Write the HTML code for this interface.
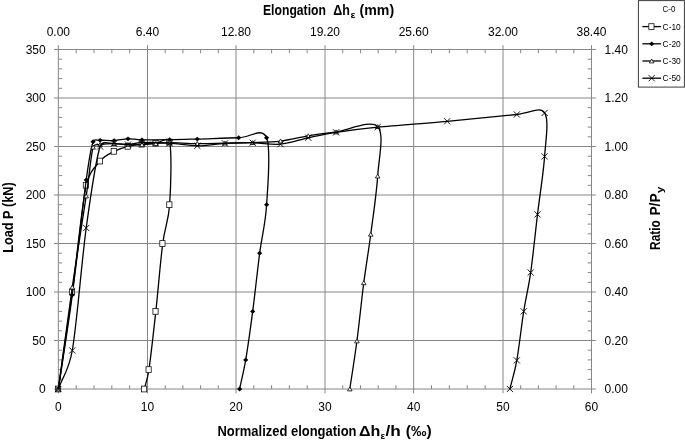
<!DOCTYPE html>
<html lang="en"><head><meta charset="utf-8"><title>Load-elongation chart</title>
<style>html,body{margin:0;padding:0;background:#fff;}body{width:685px;height:443px;overflow:hidden;}svg{display:block;}text{font-family:"Liberation Sans",sans-serif;fill:#000;}.t{font-size:12px;}.b{font-size:13.8px;font-weight:bold;}.l{font-size:8.3px;}.s{font-size:9.5px;}</style>
</head><body>
<svg width="685" height="443" viewBox="0 0 685 443">
<rect width="685" height="443" fill="#fff"/>
<path d="M147.50,49.50V389.00M236.00,49.50V389.00M325.00,49.50V389.00M413.65,49.50V389.00M503.00,49.50V389.00M591.50,49.50V389.00M58.35,340.50H591.50M58.35,292.00H591.50M58.35,243.50H591.50M58.35,195.00H591.50M58.35,146.50H591.50M58.35,98.00H591.50M58.35,49.50H591.50" fill="none" stroke="#868686" stroke-width="1"/>
<path d="M58.35,49.50V389.00M591.50,49.50V389.00M58.35,49.50H591.50M58.35,389.00H591.50M58.35,389.00v4.30M58.35,49.50v-4.30M147.50,389.00v4.30M147.50,49.50v-4.30M236.00,389.00v4.30M236.00,49.50v-4.30M325.00,389.00v4.30M325.00,49.50v-4.30M413.65,389.00v4.30M413.65,49.50v-4.30M503.00,389.00v4.30M503.00,49.50v-4.30M591.50,389.00v4.30M591.50,49.50v-4.30M76.18,389.00v-3.80M76.18,49.50v3.80M94.01,389.00v-3.80M94.01,49.50v3.80M111.84,389.00v-3.80M111.84,49.50v3.80M129.67,389.00v-3.80M129.67,49.50v3.80M165.20,389.00v-3.80M165.20,49.50v3.80M182.90,389.00v-3.80M182.90,49.50v3.80M200.60,389.00v-3.80M200.60,49.50v3.80M218.30,389.00v-3.80M218.30,49.50v3.80M253.80,389.00v-3.80M253.80,49.50v3.80M271.60,389.00v-3.80M271.60,49.50v3.80M289.40,389.00v-3.80M289.40,49.50v3.80M307.20,389.00v-3.80M307.20,49.50v3.80M342.73,389.00v-3.80M342.73,49.50v3.80M360.46,389.00v-3.80M360.46,49.50v3.80M378.19,389.00v-3.80M378.19,49.50v3.80M395.92,389.00v-3.80M395.92,49.50v3.80M431.52,389.00v-3.80M431.52,49.50v3.80M449.39,389.00v-3.80M449.39,49.50v3.80M467.26,389.00v-3.80M467.26,49.50v3.80M485.13,389.00v-3.80M485.13,49.50v3.80M520.70,389.00v-3.80M520.70,49.50v3.80M538.40,389.00v-3.80M538.40,49.50v3.80M556.10,389.00v-3.80M556.10,49.50v3.80M573.80,389.00v-3.80M573.80,49.50v3.80M58.35,389.00h-4.30M591.50,389.00h4.30M58.35,340.50h-4.30M591.50,340.50h4.30M58.35,292.00h-4.30M591.50,292.00h4.30M58.35,243.50h-4.30M591.50,243.50h4.30M58.35,195.00h-4.30M591.50,195.00h4.30M58.35,146.50h-4.30M591.50,146.50h4.30M58.35,98.00h-4.30M591.50,98.00h4.30M58.35,49.50h-4.30M591.50,49.50h4.30M58.35,379.30h3.80M591.50,379.30h-3.80M58.35,369.60h3.80M591.50,369.60h-3.80M58.35,359.90h3.80M591.50,359.90h-3.80M58.35,350.20h3.80M591.50,350.20h-3.80M58.35,330.80h3.80M591.50,330.80h-3.80M58.35,321.10h3.80M591.50,321.10h-3.80M58.35,311.40h3.80M591.50,311.40h-3.80M58.35,301.70h3.80M591.50,301.70h-3.80M58.35,282.30h3.80M591.50,282.30h-3.80M58.35,272.60h3.80M591.50,272.60h-3.80M58.35,262.90h3.80M591.50,262.90h-3.80M58.35,253.20h3.80M591.50,253.20h-3.80M58.35,233.80h3.80M591.50,233.80h-3.80M58.35,224.10h3.80M591.50,224.10h-3.80M58.35,214.40h3.80M591.50,214.40h-3.80M58.35,204.70h3.80M591.50,204.70h-3.80M58.35,185.30h3.80M591.50,185.30h-3.80M58.35,175.60h3.80M591.50,175.60h-3.80M58.35,165.90h3.80M591.50,165.90h-3.80M58.35,156.20h3.80M591.50,156.20h-3.80M58.35,136.80h3.80M591.50,136.80h-3.80M58.35,127.10h3.80M591.50,127.10h-3.80M58.35,117.40h3.80M591.50,117.40h-3.80M58.35,107.70h3.80M591.50,107.70h-3.80M58.35,88.30h3.80M591.50,88.30h-3.80M58.35,78.60h3.80M591.50,78.60h-3.80M58.35,68.90h3.80M591.50,68.90h-3.80M58.35,59.20h3.80M591.50,59.20h-3.80" fill="none" stroke="#868686" stroke-width="1"/>
<path d="M58.35,389.00C62.99,356.67 67.64,325.95 72.28,292.00C76.92,258.05 81.57,207.12 86.21,185.30C89.12,171.62 95.50,166.71 100.14,161.05C104.78,155.39 109.43,153.81 114.07,151.35C118.71,148.89 123.36,147.50 128.00,146.31C132.64,145.11 137.30,144.69 141.93,144.17C146.56,143.65 151.18,143.54 155.80,143.20C160.41,142.86 168.10,135.37 169.62,142.13C171.93,152.38 170.78,187.81 169.62,204.70C168.47,221.59 165.02,225.72 162.72,243.50C160.42,261.28 158.12,290.38 155.82,311.40C153.52,332.42 150.82,356.67 148.92,369.60C147.46,379.46 145.89,382.53 144.38,389.00" fill="none" stroke="#000" stroke-width="1.3" stroke-linejoin="round"/>
<g><rect x="55.45" y="386.10" width="5.2" height="5.8" fill="#fff" stroke="#111" stroke-width="0.8"/><rect x="69.38" y="289.10" width="5.2" height="5.8" fill="#fff" stroke="#111" stroke-width="0.8"/><rect x="83.31" y="182.40" width="5.2" height="5.8" fill="#fff" stroke="#111" stroke-width="0.8"/><rect x="97.24" y="158.15" width="5.2" height="5.8" fill="#fff" stroke="#111" stroke-width="0.8"/><rect x="111.17" y="148.45" width="5.2" height="5.8" fill="#fff" stroke="#111" stroke-width="0.8"/><rect x="125.10" y="143.41" width="5.2" height="5.8" fill="#fff" stroke="#111" stroke-width="0.8"/><rect x="139.03" y="141.27" width="5.2" height="5.8" fill="#fff" stroke="#111" stroke-width="0.8"/><rect x="152.90" y="140.30" width="5.2" height="5.8" fill="#fff" stroke="#111" stroke-width="0.8"/><rect x="166.72" y="139.23" width="5.2" height="5.8" fill="#fff" stroke="#111" stroke-width="0.8"/><rect x="166.72" y="201.80" width="5.2" height="5.8" fill="#fff" stroke="#111" stroke-width="0.8"/><rect x="159.82" y="240.60" width="5.2" height="5.8" fill="#fff" stroke="#111" stroke-width="0.8"/><rect x="152.92" y="308.50" width="5.2" height="5.8" fill="#fff" stroke="#111" stroke-width="0.8"/><rect x="146.02" y="366.70" width="5.2" height="5.8" fill="#fff" stroke="#111" stroke-width="0.8"/><rect x="141.48" y="386.10" width="5.2" height="5.8" fill="#fff" stroke="#111" stroke-width="0.8"/></g>
<path d="M58.35,389.00C62.99,357.70 67.64,329.94 72.28,295.10C76.92,260.26 82.74,205.52 86.21,179.97C88.82,160.72 90.80,148.36 93.12,141.75C94.31,138.36 96.65,140.49 100.14,140.29C103.63,140.10 109.43,140.83 114.07,140.58C118.71,140.34 123.36,138.97 128.00,138.84C132.64,138.71 134.99,139.66 141.93,139.81C148.87,139.95 160.40,139.84 169.62,139.71C178.85,139.58 185.77,139.35 197.28,139.03C208.79,138.71 227.11,137.98 238.67,137.77C250.23,137.56 261.96,126.62 266.62,137.77C271.27,148.93 267.77,185.46 266.62,204.70C265.46,223.94 262.00,235.42 259.67,253.20C257.35,270.98 255.02,293.62 252.69,311.40C250.36,329.18 247.89,346.97 245.70,359.90C243.51,372.83 241.61,379.30 239.56,389.00" fill="none" stroke="#000" stroke-width="1.3" stroke-linejoin="round"/>
<g><path d="M58.35,386.60l2.6,2.4l-2.6,2.4l-2.6,-2.4z" fill="#000"/><path d="M72.28,292.70l2.6,2.4l-2.6,2.4l-2.6,-2.4z" fill="#000"/><path d="M86.21,177.56l2.6,2.4l-2.6,2.4l-2.6,-2.4z" fill="#000"/><path d="M93.12,139.35l2.6,2.4l-2.6,2.4l-2.6,-2.4z" fill="#000"/><path d="M100.14,137.89l2.6,2.4l-2.6,2.4l-2.6,-2.4z" fill="#000"/><path d="M114.07,138.18l2.6,2.4l-2.6,2.4l-2.6,-2.4z" fill="#000"/><path d="M128.00,136.44l2.6,2.4l-2.6,2.4l-2.6,-2.4z" fill="#000"/><path d="M141.93,137.41l2.6,2.4l-2.6,2.4l-2.6,-2.4z" fill="#000"/><path d="M169.62,137.31l2.6,2.4l-2.6,2.4l-2.6,-2.4z" fill="#000"/><path d="M197.28,136.63l2.6,2.4l-2.6,2.4l-2.6,-2.4z" fill="#000"/><path d="M238.67,135.37l2.6,2.4l-2.6,2.4l-2.6,-2.4z" fill="#000"/><path d="M266.62,135.37l2.6,2.4l-2.6,2.4l-2.6,-2.4z" fill="#000"/><path d="M266.62,202.30l2.6,2.4l-2.6,2.4l-2.6,-2.4z" fill="#000"/><path d="M259.67,250.80l2.6,2.4l-2.6,2.4l-2.6,-2.4z" fill="#000"/><path d="M252.69,309.00l2.6,2.4l-2.6,2.4l-2.6,-2.4z" fill="#000"/><path d="M245.70,357.50l2.6,2.4l-2.6,2.4l-2.6,-2.4z" fill="#000"/><path d="M239.56,386.60l2.6,2.4l-2.6,2.4l-2.6,-2.4z" fill="#000"/></g>
<path d="M58.35,389.00C62.99,355.05 67.64,319.32 72.28,287.15C76.92,254.98 82.74,219.30 86.21,195.97C89.68,172.64 90.80,155.75 93.12,147.18C94.10,143.56 96.65,145.16 100.14,144.56C103.63,143.96 109.43,143.59 114.07,143.59C118.71,143.59 123.36,144.40 128.00,144.56C132.64,144.72 137.30,144.72 141.93,144.56C146.56,144.40 151.18,143.91 155.80,143.59C160.41,143.27 162.71,142.62 169.62,142.62C176.54,142.62 188.06,143.51 197.28,143.59C206.50,143.67 215.70,143.27 224.94,143.10C234.17,142.94 243.43,142.96 252.69,142.62C261.95,142.28 271.23,142.20 280.50,141.07C289.77,139.94 299.05,137.35 308.31,135.83C317.58,134.31 324.52,133.49 336.08,131.95C347.64,130.41 370.73,119.26 377.66,126.62C384.59,133.97 378.81,158.14 377.66,176.09C376.51,194.03 373.06,216.50 370.74,234.28C368.43,252.07 366.09,265.00 363.78,282.78C361.48,300.57 359.24,323.28 356.91,340.99C354.59,358.69 352.19,373.00 349.82,389.00" fill="none" stroke="#000" stroke-width="1.3" stroke-linejoin="round"/>
<g><path d="M58.35,387.00l2.3,3.9h-4.6z" fill="#fff" stroke="#000" stroke-width="0.8"/><path d="M72.28,285.15l2.3,3.9h-4.6z" fill="#fff" stroke="#000" stroke-width="0.8"/><path d="M86.21,193.97l2.3,3.9h-4.6z" fill="#fff" stroke="#000" stroke-width="0.8"/><path d="M93.12,145.18l2.3,3.9h-4.6z" fill="#fff" stroke="#000" stroke-width="0.8"/><path d="M100.14,142.56l2.3,3.9h-4.6z" fill="#fff" stroke="#000" stroke-width="0.8"/><path d="M114.07,141.59l2.3,3.9h-4.6z" fill="#fff" stroke="#000" stroke-width="0.8"/><path d="M128.00,142.56l2.3,3.9h-4.6z" fill="#fff" stroke="#000" stroke-width="0.8"/><path d="M141.93,142.56l2.3,3.9h-4.6z" fill="#fff" stroke="#000" stroke-width="0.8"/><path d="M155.80,141.59l2.3,3.9h-4.6z" fill="#fff" stroke="#000" stroke-width="0.8"/><path d="M169.62,140.62l2.3,3.9h-4.6z" fill="#fff" stroke="#000" stroke-width="0.8"/><path d="M197.28,141.59l2.3,3.9h-4.6z" fill="#fff" stroke="#000" stroke-width="0.8"/><path d="M224.94,141.10l2.3,3.9h-4.6z" fill="#fff" stroke="#000" stroke-width="0.8"/><path d="M252.69,140.62l2.3,3.9h-4.6z" fill="#fff" stroke="#000" stroke-width="0.8"/><path d="M280.50,139.07l2.3,3.9h-4.6z" fill="#fff" stroke="#000" stroke-width="0.8"/><path d="M308.31,133.83l2.3,3.9h-4.6z" fill="#fff" stroke="#000" stroke-width="0.8"/><path d="M336.08,129.95l2.3,3.9h-4.6z" fill="#fff" stroke="#000" stroke-width="0.8"/><path d="M377.66,124.62l2.3,3.9h-4.6z" fill="#fff" stroke="#000" stroke-width="0.8"/><path d="M377.66,174.09l2.3,3.9h-4.6z" fill="#fff" stroke="#000" stroke-width="0.8"/><path d="M370.74,232.28l2.3,3.9h-4.6z" fill="#fff" stroke="#000" stroke-width="0.8"/><path d="M363.78,280.78l2.3,3.9h-4.6z" fill="#fff" stroke="#000" stroke-width="0.8"/><path d="M356.91,338.99l2.3,3.9h-4.6z" fill="#fff" stroke="#000" stroke-width="0.8"/><path d="M349.82,387.00l2.3,3.9h-4.6z" fill="#fff" stroke="#000" stroke-width="0.8"/></g>
<path d="M58.35,389.00C62.99,376.16 68.79,370.67 72.28,350.49C76.92,323.65 81.57,261.98 86.21,227.98C90.85,193.98 95.50,160.56 100.14,146.50C102.37,139.74 109.43,143.91 114.07,143.59C118.71,143.27 123.36,144.72 128.00,144.56C132.64,144.40 134.99,142.86 141.93,142.62C148.87,142.38 160.40,142.57 169.62,143.10C178.85,143.64 188.06,145.77 197.28,145.82C206.50,145.87 215.70,143.91 224.94,143.40C234.17,142.88 243.43,142.59 252.69,142.72C261.95,142.85 271.23,145.00 280.50,144.17C289.77,143.35 299.05,139.74 308.31,137.77C317.58,135.80 324.52,134.12 336.08,132.34C347.64,130.56 359.15,128.94 377.66,127.10C396.17,125.26 423.96,123.38 447.16,121.28C470.35,119.18 500.57,115.88 516.81,114.49C530.67,113.30 539.96,105.95 544.60,112.94C549.23,119.92 545.78,139.48 544.60,156.39C543.41,173.30 539.84,195.03 537.51,214.40C535.19,233.77 532.96,256.43 530.66,272.60C528.36,288.77 526.02,296.77 523.71,311.40C521.40,326.03 519.11,347.45 516.81,360.38C514.50,373.32 512.20,379.46 509.90,389.00" fill="none" stroke="#000" stroke-width="1.3" stroke-linejoin="round"/>
<g><path d="M55.25,385.90l6.2,6.2m0,-6.2l-6.2,6.2" fill="none" stroke="#000" stroke-width="0.9"/><path d="M69.18,347.39l6.2,6.2m0,-6.2l-6.2,6.2" fill="none" stroke="#000" stroke-width="0.9"/><path d="M83.11,224.88l6.2,6.2m0,-6.2l-6.2,6.2" fill="none" stroke="#000" stroke-width="0.9"/><path d="M97.04,143.40l6.2,6.2m0,-6.2l-6.2,6.2" fill="none" stroke="#000" stroke-width="0.9"/><path d="M110.97,140.49l6.2,6.2m0,-6.2l-6.2,6.2" fill="none" stroke="#000" stroke-width="0.9"/><path d="M124.90,141.46l6.2,6.2m0,-6.2l-6.2,6.2" fill="none" stroke="#000" stroke-width="0.9"/><path d="M138.83,139.52l6.2,6.2m0,-6.2l-6.2,6.2" fill="none" stroke="#000" stroke-width="0.9"/><path d="M166.53,140.00l6.2,6.2m0,-6.2l-6.2,6.2" fill="none" stroke="#000" stroke-width="0.9"/><path d="M194.18,142.72l6.2,6.2m0,-6.2l-6.2,6.2" fill="none" stroke="#000" stroke-width="0.9"/><path d="M221.84,140.30l6.2,6.2m0,-6.2l-6.2,6.2" fill="none" stroke="#000" stroke-width="0.9"/><path d="M249.59,139.62l6.2,6.2m0,-6.2l-6.2,6.2" fill="none" stroke="#000" stroke-width="0.9"/><path d="M277.40,141.07l6.2,6.2m0,-6.2l-6.2,6.2" fill="none" stroke="#000" stroke-width="0.9"/><path d="M305.21,134.67l6.2,6.2m0,-6.2l-6.2,6.2" fill="none" stroke="#000" stroke-width="0.9"/><path d="M332.98,129.24l6.2,6.2m0,-6.2l-6.2,6.2" fill="none" stroke="#000" stroke-width="0.9"/><path d="M374.56,124.00l6.2,6.2m0,-6.2l-6.2,6.2" fill="none" stroke="#000" stroke-width="0.9"/><path d="M444.06,118.18l6.2,6.2m0,-6.2l-6.2,6.2" fill="none" stroke="#000" stroke-width="0.9"/><path d="M513.71,111.39l6.2,6.2m0,-6.2l-6.2,6.2" fill="none" stroke="#000" stroke-width="0.9"/><path d="M541.50,109.84l6.2,6.2m0,-6.2l-6.2,6.2" fill="none" stroke="#000" stroke-width="0.9"/><path d="M541.50,153.29l6.2,6.2m0,-6.2l-6.2,6.2" fill="none" stroke="#000" stroke-width="0.9"/><path d="M534.41,211.30l6.2,6.2m0,-6.2l-6.2,6.2" fill="none" stroke="#000" stroke-width="0.9"/><path d="M527.56,269.50l6.2,6.2m0,-6.2l-6.2,6.2" fill="none" stroke="#000" stroke-width="0.9"/><path d="M520.61,308.30l6.2,6.2m0,-6.2l-6.2,6.2" fill="none" stroke="#000" stroke-width="0.9"/><path d="M513.71,357.28l6.2,6.2m0,-6.2l-6.2,6.2" fill="none" stroke="#000" stroke-width="0.9"/><path d="M506.80,385.90l6.2,6.2m0,-6.2l-6.2,6.2" fill="none" stroke="#000" stroke-width="0.9"/></g>
<text class="t" x="45.7" y="393.20" text-anchor="end">0</text>
<text class="t" x="604.5" y="393.20">0.00</text>
<text class="t" x="45.7" y="344.70" text-anchor="end">50</text>
<text class="t" x="604.5" y="344.70">0.20</text>
<text class="t" x="45.7" y="296.20" text-anchor="end">100</text>
<text class="t" x="604.5" y="296.20">0.40</text>
<text class="t" x="45.7" y="247.70" text-anchor="end">150</text>
<text class="t" x="604.5" y="247.70">0.60</text>
<text class="t" x="45.7" y="199.20" text-anchor="end">200</text>
<text class="t" x="604.5" y="199.20">0.80</text>
<text class="t" x="45.7" y="150.70" text-anchor="end">250</text>
<text class="t" x="604.5" y="150.70">1.00</text>
<text class="t" x="45.7" y="102.20" text-anchor="end">300</text>
<text class="t" x="604.5" y="102.20">1.20</text>
<text class="t" x="45.7" y="53.70" text-anchor="end">350</text>
<text class="t" x="604.5" y="53.70">1.40</text>
<text class="t" x="58.35" y="411.2" text-anchor="middle">0</text>
<text class="t" x="58.35" y="35.9" text-anchor="middle">0.00</text>
<text class="t" x="147.50" y="411.2" text-anchor="middle">10</text>
<text class="t" x="147.50" y="35.9" text-anchor="middle">6.40</text>
<text class="t" x="236.00" y="411.2" text-anchor="middle">20</text>
<text class="t" x="236.00" y="35.9" text-anchor="middle">12.80</text>
<text class="t" x="325.00" y="411.2" text-anchor="middle">30</text>
<text class="t" x="325.00" y="35.9" text-anchor="middle">19.20</text>
<text class="t" x="413.65" y="411.2" text-anchor="middle">40</text>
<text class="t" x="413.65" y="35.9" text-anchor="middle">25.60</text>
<text class="t" x="503.00" y="411.2" text-anchor="middle">50</text>
<text class="t" x="503.00" y="35.9" text-anchor="middle">32.00</text>
<text class="t" x="591.50" y="411.2" text-anchor="middle">60</text>
<text class="t" x="591.50" y="35.9" text-anchor="middle">38.40</text>
<g><text class="b" x="263.00" y="14.50" textLength="62.90" lengthAdjust="spacingAndGlyphs">Elongation</text><text class="b" x="333.20" y="14.50" textLength="16.60" lengthAdjust="spacingAndGlyphs">Δh</text><text class="b s" x="350.60" y="17.50" textLength="5.00" lengthAdjust="spacingAndGlyphs">ε</text><text class="b" x="359.50" y="14.50" textLength="34.60" lengthAdjust="spacingAndGlyphs">(mm)</text></g>
<g><text class="b" x="217.50" y="435.80" textLength="139.00" lengthAdjust="spacingAndGlyphs">Normalized elongation</text><text class="b" x="359.00" y="435.80" textLength="21.40" lengthAdjust="spacingAndGlyphs">Δh</text><text class="b s" x="380.60" y="438.80" textLength="4.60" lengthAdjust="spacingAndGlyphs">ε</text><text class="b" x="385.40" y="435.80" textLength="15.30" lengthAdjust="spacingAndGlyphs">/h</text><text class="b" x="405.80" y="435.80" textLength="25.80" lengthAdjust="spacingAndGlyphs">(‰)</text></g>
<g transform="translate(13.2,217.6) rotate(-90)"><text class="b" text-anchor="middle" textLength="70.5" lengthAdjust="spacingAndGlyphs">Load P (kN)</text></g>
<g transform="translate(659.6,249.9) rotate(-90)"><text class="b" x="0.00" y="0.00" textLength="29.60" lengthAdjust="spacingAndGlyphs">Ratio</text><text class="b" x="34.30" y="0.00" textLength="22.30" lengthAdjust="spacingAndGlyphs">P/P</text><text class="b s" x="56.80" y="3.00" textLength="6.40" lengthAdjust="spacingAndGlyphs">y</text></g>
<rect x="638.4" y="0.6" width="46" height="86.5" fill="#fff" stroke="#3c3c3c" stroke-width="1"/>
<text class="l" x="662.6" y="12.10" textLength="12.7" lengthAdjust="spacingAndGlyphs">C-0</text>
<path d="M642.4,26.60H661.1" stroke="#000" stroke-width="1.3"/>
<rect x="648.80" y="23.70" width="5.2" height="5.8" fill="#fff" stroke="#111" stroke-width="0.8"/>
<text class="l" x="662.6" y="29.50" textLength="18.2" lengthAdjust="spacingAndGlyphs">C-10</text>
<path d="M642.4,43.80H661.1" stroke="#000" stroke-width="1.3"/>
<path d="M651.70,41.40l2.6,2.4l-2.6,2.4l-2.6,-2.4z" fill="#000"/>
<text class="l" x="662.6" y="46.70" textLength="18.2" lengthAdjust="spacingAndGlyphs">C-20</text>
<path d="M642.4,61.00H661.1" stroke="#000" stroke-width="1.3"/>
<path d="M651.70,59.00l2.3,3.9h-4.6z" fill="#fff" stroke="#000" stroke-width="0.8"/>
<text class="l" x="662.6" y="63.90" textLength="18.2" lengthAdjust="spacingAndGlyphs">C-30</text>
<path d="M642.4,78.20H661.1" stroke="#000" stroke-width="1.3"/>
<path d="M648.60,75.10l6.2,6.2m0,-6.2l-6.2,6.2" fill="none" stroke="#000" stroke-width="0.9"/>
<text class="l" x="662.6" y="81.10" textLength="18.2" lengthAdjust="spacingAndGlyphs">C-50</text>
</svg></body></html>
